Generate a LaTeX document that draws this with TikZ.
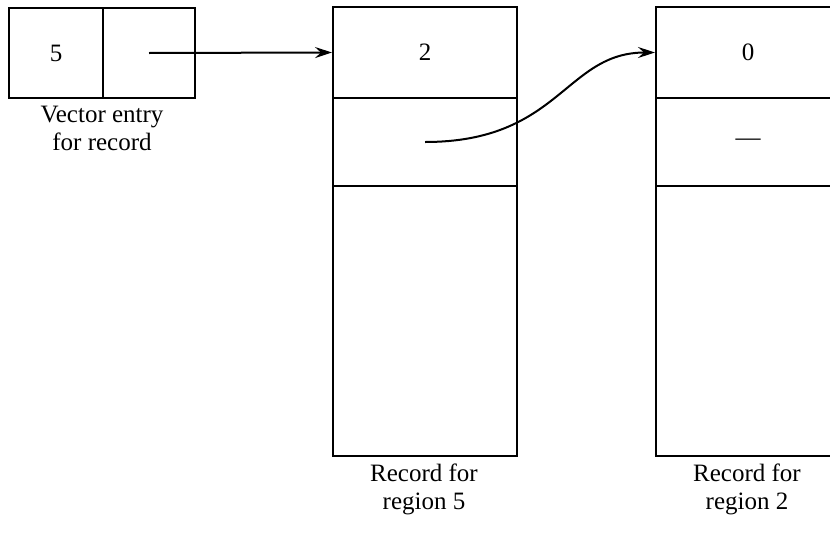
\documentclass[tikz,border=0pt]{standalone}
\usepackage{fontspec}
\setmainfont{Liberation Serif}
\usetikzlibrary{arrows.meta}
\tikzset{
  cell/.style={draw, line width=2pt, rectangle, inner sep=0pt, anchor=north west},
  ptr/.style={line width=2pt, -{Stealth[length=17pt, width=11pt, inset=6pt]}},
  caption/.style={align=center, inner sep=0pt, font=\fontsize{25}{28}\selectfont}
}
\begin{document}
\begin{tikzpicture}[x=1pt, y=-1pt, font=\fontsize{25}{28}\selectfont]
\useasboundingbox (0,0) rectangle (830,533);

% vector entry
\node[cell, minimum width=94pt, minimum height=90pt] (v1) at (8,7) {5};
\node[cell, minimum width=92pt, minimum height=90pt] (v2) at (102,7) {};

% record for region 5
\node[cell, minimum width=184pt, minimum height=91pt] (r5a) at (332,6) {2};
\node[cell, minimum width=184pt, minimum height=88pt] (r5b) at (332,97) {};
\node[cell, minimum width=184pt, minimum height=270pt] (r5c) at (332,185) {};

% record for region 2
\node[cell, minimum width=184pt, minimum height=91pt] (r2a) at (655,6) {0};
\node[cell, minimum width=184pt, minimum height=88pt] (r2b) at (655,97) {};
\node[cell, minimum width=184pt, minimum height=270pt] (r2c) at (655,185) {};
\node at (r2b.center) {\textemdash};

% pointers
\draw[ptr] (v2.center) -- (r5a.west);
\draw[ptr] (r5b.center) .. controls +(135,0) and +(-90,0) .. (r2a.west);

% captions
\node[caption, anchor=north] (lv) at (102,106) {Vector entry\\for record};
\node[caption, anchor=north] (l5) at (424,464) {Record for\\region 5};
\node[caption, anchor=north] (l2) at (747,464) {Record for\\region 2};
\end{tikzpicture}
\end{document}
